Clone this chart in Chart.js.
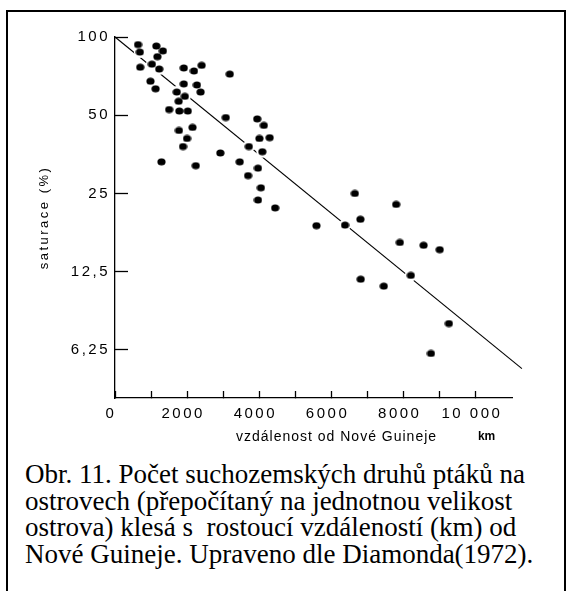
<!DOCTYPE html>
<html>
<head>
<meta charset="utf-8">
<script src="https://cdn.jsdelivr.net/npm/chart.js@4"></script>
<style>
  body { margin: 0; background: #fff; width: 571px; height: 591px; overflow: hidden; position: relative; }
  #frame { position: absolute; left: 6px; top: 10px; width: 556px; height: 700px; border: 2px solid #000; }
  #wrap { position: absolute; left: 0; top: 0; width: 571px; height: 455px; }
  #caption { position: absolute; left: 25px; top: 461px; font-family: 'Liberation Serif', 'Times New Roman', serif;
             font-size: 27px; line-height: 26.5px; color: #000; white-space: nowrap; }
</style>
</head>
<body>
<div id="frame"></div>
<div id="wrap"><canvas id="chart"></canvas></div>
<div id="caption">Obr. 11. Počet suchozemských druhů ptáků na<br>ostrovech (přepočítaný na jednotnou velikost<br>ostrova) klesá s&nbsp; rostoucí vzdáleností (km) od<br>Nové Guineje. Upraveno dle Diamonda(1972).</div>
<script>
// islands: distance from New Guinea (km) and saturation (%)
const distanceKm = [638, 689, 1145, 1327, 1175, 1023, 699, 1226, 983, 1125,
  1905, 2188, 2401, 3181, 1905, 2270, 2371, 1712, 1935, 1763,
  1500, 1783, 2016, 3070, 3941, 4124, 2148, 1773, 1996, 4002,
  4286, 1885, 3708, 4083, 2918, 1287, 3455, 2239, 3962, 3688,
  4043, 3962, 4438, 6646, 6799, 5583, 6373, 7791, 7893, 8551,
  8997, 8197, 6809, 7447, 9251, 8754];
const saturation = [93.5, 87.5, 92.3, 88.4, 84.0, 78.6, 76.5, 75.3, 67.6, 63.2,
  76.0, 74.0, 77.8, 72.0, 66.0, 65.4, 61.4, 61.4, 59.1, 56.6,
  52.6, 51.9, 51.9, 49.0, 48.4, 45.7, 44.9, 43.7, 40.7, 40.7,
  41.0, 37.9, 37.9, 36.2, 35.8, 33.1, 33.1, 32.0, 31.3, 29.3,
  26.3, 23.6, 22.0, 25.0, 19.9, 18.8, 18.9, 22.7, 16.2, 15.8,
  15.2, 12.1, 11.7, 11.0, 7.9, 6.06];

// regression line ends
const fitX = [0, 11275];
const fitY = [100, 5.3];

const yTickValues = [6.25, 12.5, 25, 50, 100];
const yTickLabels = ['6,25', '12,5', '25', '50', '100'];
const xTickValues = [0, 1000, 2000, 3000, 4000, 5000, 6000, 7000, 8000, 9000, 10000];
const xTickLabels = ['0', '', '2000', '', '4000', '', '6000', '', '8000', '', '10 000'];

const xTitle = 'vzdálenost od Nové Guineje';
const xUnit = 'km';

const FONT = "'Liberation Sans', Arial, sans-serif";

const points = distanceKm.map((d, i) => ({x: d, y: saturation[i]}));
const fitLine = fitX.map((d, i) => ({x: d, y: fitY[i]}));

// slightly oval dot like the printed figure
const dot = document.createElement('canvas');
dot.width = 9; dot.height = 8;
const dctx = dot.getContext('2d');
dctx.fillStyle = '#000';
dctx.beginPath();
dctx.ellipse(4.5, 4, 4.1, 3.5, 0, 0, Math.PI * 2);
dctx.fill();

const axisText = {
  id: 'axisText',
  beforeDraw(chart) {
    chart.ctx.letterSpacing = '2.5px';
  },
  afterDraw(chart) {
    const ctx = chart.ctx;
    const area = chart.chartArea;
    ctx.save();
    ctx.fillStyle = '#000';
    ctx.textBaseline = 'middle';
    ctx.textAlign = 'center';
    ctx.letterSpacing = '1px';
    ctx.font = '14px ' + FONT;
    const ty = area.bottom + 39;
    ctx.fillText(xTitle, area.left + area.width * 0.558, ty);
    ctx.font = 'bold 12px ' + FONT;
    ctx.letterSpacing = '0px';
    ctx.fillText(xUnit, area.left + area.width * 0.936, ty);
    ctx.restore();
  }
};

new Chart(document.getElementById('chart'), {
  type: 'scatter',
  data: {
    datasets: [
      {
        label: 'fit',
        type: 'line',
        data: fitLine,
        borderColor: '#000',
        borderWidth: 1.1,
        pointRadius: 0,
        showLine: true,
        fill: false,
        clip: false,
        order: 3
      },
      {
        label: 'halo',
        data: points,
        pointRadius: 6,
        pointBackgroundColor: '#fff',
        pointBorderWidth: 0,
        order: 2
      },
      {
        label: 'ostrovy',
        data: points,
        pointStyle: dot,
        pointRadius: 4,
        order: 1
      }
    ]
  },
  options: {
    responsive: true,
    maintainAspectRatio: false,
    animation: false,
    layout: { padding: { top: 37, right: 59, left: 0, bottom: 0 } },
    plugins: { legend: { display: false }, tooltip: { enabled: false } },
    scales: {
      x: {
        type: 'linear',
        min: 0,
        max: 11000,
        // negative tick length puts the ticks inside the plot, as in the print
        grid: { display: true, drawOnChartArea: false, drawTicks: true, tickLength: -7, tickWidth: 1.3, tickColor: '#000' },
        border: { display: true, color: '#000', width: 1.3 },
        afterBuildTicks: s => { s.ticks = xTickValues.map(v => ({value: v})); },
        afterFit: s => { s.height = 57; },
        ticks: {
          padding: 14,
          labelOffset: -4,
          color: '#000',
          maxRotation: 0,
          autoSkip: false,
          font: { family: FONT, size: 15 },
          callback: (v, i) => xTickLabels[i]
        }
      },
      y: {
        type: 'logarithmic',
        min: 4.085,
        max: 100,
        grid: { display: true, drawOnChartArea: false, drawTicks: true, tickLength: -13, tickWidth: 1.3, tickColor: '#000' },
        border: { display: true, color: '#000', width: 1.3 },
        afterBuildTicks: s => { s.ticks = yTickValues.map(v => ({value: v})); },
        afterFit: s => { s.width = 115; },
        ticks: {
          padding: 18,
          color: '#000',
          autoSkip: false,
          font: { family: FONT, size: 15 },
          callback: (v, i) => yTickLabels[i]
        },
        title: {
          display: true,
          text: 'saturace (%)',
          color: '#000',
          font: { family: FONT, size: 13 },
          padding: { top: 37, bottom: 0 }
        }
      }
    }
  },
  plugins: [axisText]
});
</script>
</body>
</html>
